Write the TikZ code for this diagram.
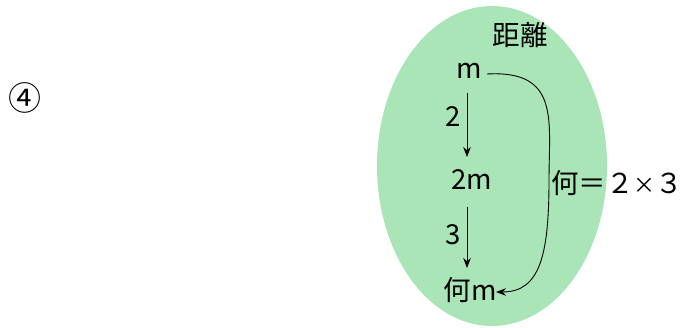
\documentclass[tikz,border=0pt]{standalone}
\usepackage{fontspec}
\setmainfont{Noto Sans CJK JP}
\usetikzlibrary{arrows.meta}
\definecolor{setgreen}{HTML}{A9E5B7}
\tikzset{
  lbl/.style={inner sep=0pt, font=\fontsize{27.5}{30}\selectfont},
  arr/.style={line width=0.9pt, -{Stealth[length=10pt,width=7.5pt]}}
}
\begin{document}
\begin{tikzpicture}[x=1pt,y=-1pt]
\useasboundingbox (0,0) rectangle (682,327);
% distance set
\fill[setgreen] (492,166) ellipse [x radius=115, y radius=160];
\node[lbl, font=\fontsize{33}{35}\selectfont] (num) at (25,98) {④};
\node[lbl] (title) at (520,35) {距離};
\node[lbl] (m) at (469,71) {m};
\node[lbl] (m2) at (472,180) {2m};
\node[lbl] (mq) at (470,290) {何m};
\node[lbl] (k2) at (453,117) {2};
\node[lbl] (k3) at (453,235) {3};
\node[lbl] (total) at (617,183) {何＝２{\fontsize{22}{24}\selectfont×}３};
% step arrows
\coordinate (a1) at (467,93);
\coordinate (b1) at (467,157);
\coordinate (a2) at (467,207);
\coordinate (b2) at (467,268);
\draw[arr] (a1) -- (b1);
\draw[arr] (a2) -- (b2);
% combined arrow
\coordinate (c0) at (487,74);
\coordinate (c1) at (496,292);
\draw[arr] (c0) .. controls (560,70) and (549,120) .. (549,180)
  .. controls (549,255) and (540,292) .. (c1);
\end{tikzpicture}
\end{document}
